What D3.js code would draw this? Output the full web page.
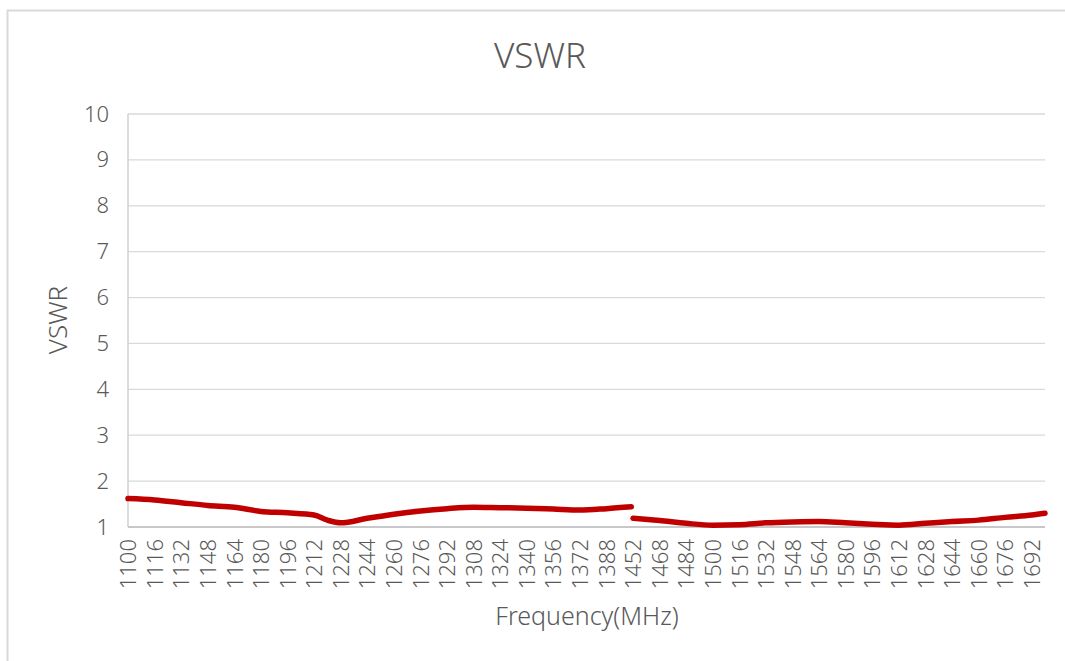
<!DOCTYPE html>
<html>
<head>
<meta charset="utf-8">
<script src="https://cdn.jsdelivr.net/npm/d3@7"></script>
<style>
  html, body { margin: 0; padding: 0; background: #fff; }
  svg { display: block; font-family: "Noto Sans", "Open Sans", sans-serif; font-weight: 300; }
</style>
</head>
<body>
<svg id="chart" width="1065" height="661"></svg>
<script>
// category axis: 1 MHz steps, with the 1404-1451 band missing
var freqCategories = d3.range(1100, 1404).concat(d3.range(1452, 1701));

var tickFreqs = [1100, 1116, 1132, 1148, 1164, 1180, 1196, 1212, 1228, 1244,
    1260, 1276, 1292, 1308, 1324, 1340, 1356, 1372, 1388, 1452, 1468, 1484,
    1500, 1516, 1532, 1548, 1564, 1580, 1596, 1612, 1628, 1644, 1660, 1676, 1692];

var yTicks = [1, 2, 3, 4, 5, 6, 7, 8, 9, 10];

// lower band
var freqLow = [1100, 1116, 1132, 1148, 1164, 1180, 1196, 1212, 1220, 1228, 1244,
    1260, 1276, 1292, 1308, 1324, 1340, 1356, 1372, 1388, 1403];
var vswrLow = [1.62, 1.59, 1.53, 1.47, 1.43, 1.34, 1.31, 1.26, 1.15, 1.09, 1.19,
    1.28, 1.35, 1.40, 1.43, 1.42, 1.41, 1.39, 1.37, 1.40, 1.44];

// upper band
var freqHigh = [1452, 1468, 1484, 1500, 1516, 1532, 1548, 1564, 1580, 1596, 1612,
    1628, 1644, 1660, 1676, 1692, 1700];
var vswrHigh = [1.19, 1.14, 1.08, 1.04, 1.05, 1.09, 1.11, 1.12, 1.09, 1.06, 1.04,
    1.08, 1.12, 1.15, 1.21, 1.26, 1.30];

var svg = d3.select("#chart");
var plotL = 128, plotR = 1045, plotT = 114, plotB = 527;
var grey = "#595959";

// chart frame
svg.append("rect")
    .attr("x", 7.5).attr("y", 10.5)
    .attr("width", 1070).attr("height", 670)
    .attr("fill", "none")
    .attr("stroke", "#d9d9d9")
    .attr("stroke-width", 2);

var x = d3.scalePoint().domain(freqCategories).range([plotL, plotR]).padding(0);
var y = d3.scaleLinear().domain([1, 10]).range([plotB, plotT]);

// gridlines
svg.append("g").selectAll("line").data(yTicks).join("line")
    .attr("x1", plotL).attr("x2", plotR)
    .attr("y1", function (d) { return y(d); })
    .attr("y2", function (d) { return y(d); })
    .attr("stroke", function (d) { return d == 1 ? "#c8c8c8" : "#d9d9d9"; })
    .attr("stroke-width", function (d) { return d == 1 ? 2 : 1.3; });

// left axis line
svg.append("line")
    .attr("x1", plotL).attr("x2", plotL)
    .attr("y1", plotT).attr("y2", plotB)
    .attr("stroke", "#d0d0d0").attr("stroke-width", 1.5);

// y axis labels
var yAxis = d3.axisLeft(y).tickValues(yTicks).tickSize(0).tickPadding(19);
var gy = svg.append("g").attr("transform", "translate(" + plotL + ",0)").call(yAxis);
gy.select(".domain").remove();
gy.selectAll("text")
    .attr("fill", grey)
    .style("font-size", "22px")
    .style("font-weight", 300)
    .style("font-family", "'Noto Sans', sans-serif");

// x axis labels, rotated
var xAxis = d3.axisBottom(x).tickValues(tickFreqs).tickSize(0);
var gx = svg.append("g").attr("transform", "translate(0," + plotB + ")").call(xAxis);
gx.select(".domain").remove();
gx.selectAll("text")
    .attr("fill", grey)
    .style("font-size", "22px")
    .style("font-weight", 300)
    .style("font-family", "'Noto Sans', sans-serif")
    .attr("transform", "rotate(-90)")
    .attr("text-anchor", "end")
    .attr("x", -12)
    .attr("y", 0)
    .attr("dy", "0.35em");

// series
var line = d3.line()
    .x(function (d) { return x(d[0]); })
    .y(function (d) { return y(d[1]); })
    .curve(d3.curveMonotoneX);

[[freqLow, vswrLow], [freqHigh, vswrHigh]].forEach(function (s) {
    var pts = s[0].map(function (f, i) { return [f, s[1][i]]; });
    svg.append("path")
        .datum(pts)
        .attr("d", line)
        .attr("fill", "none")
        .attr("stroke", "#c00000")
        .attr("stroke-width", 5.5)
        .attr("stroke-linecap", "round")
        .attr("stroke-linejoin", "round");
});

// titles
svg.append("text")
    .attr("x", 540).attr("y", 68)
    .attr("text-anchor", "middle")
    .attr("fill", grey)
    .style("font-size", "35px")
    .text("VSWR");

svg.append("text")
    .attr("x", 587).attr("y", 625)
    .attr("text-anchor", "middle")
    .attr("fill", grey)
    .style("font-size", "25px")
    .text("Frequency(MHz)");

svg.append("text")
    .attr("transform", "translate(67,320) rotate(-90)")
    .attr("text-anchor", "middle")
    .attr("fill", grey)
    .style("font-size", "26px")
    .text("VSWR");
</script>
</body>
</html>
